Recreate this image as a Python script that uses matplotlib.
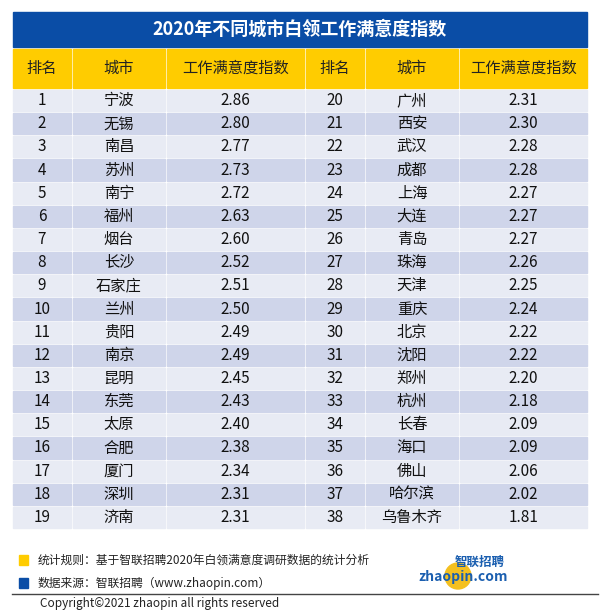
import matplotlib
matplotlib.use("Agg")
import matplotlib.pyplot as plt
from matplotlib.patches import Rectangle, Circle

plt.rcParams['font.family'] = ['Noto Sans CJK SC', 'DejaVu Sans']

title = "2020年不同城市白领工作满意度指数"
headers = ["排名", "城市", "工作满意度指数", "排名", "城市", "工作满意度指数"]
ranks = list(range(1, 39))
cities = ["宁波", "无锡", "南昌", "苏州", "南宁", "福州", "烟台", "长沙", "石家庄", "兰州",
          "贵阳", "南京", "昆明", "东莞", "太原", "合肥", "厦门", "深圳", "济南",
          "广州", "西安", "武汉", "成都", "上海", "大连", "青岛", "珠海", "天津", "重庆",
          "北京", "沈阳", "郑州", "杭州", "长春", "海口", "佛山", "哈尔滨", "乌鲁木齐"]
values = [2.86, 2.80, 2.77, 2.73, 2.72, 2.63, 2.60, 2.52, 2.51, 2.50,
          2.49, 2.49, 2.45, 2.43, 2.40, 2.38, 2.34, 2.31, 2.31,
          2.31, 2.30, 2.28, 2.28, 2.27, 2.27, 2.27, 2.26, 2.25, 2.24,
          2.22, 2.22, 2.20, 2.18, 2.09, 2.09, 2.06, 2.02, 1.81]

fig = plt.figure(figsize=(6, 6.13), dpi=100)
ax = fig.add_axes([0, 0, 1, 1])
ax.set_xlim(0, 600); ax.set_ylim(613, 0); ax.axis('off')

BLUE = "#0A4DA6"; YEL = "#FFCC00"; ODD = "#E8EBF4"; EVEN = "#CFD5EA"
ax.add_patch(Rectangle((13, 12), 574, 35, color=BLUE))
ax.text(300, 29.5, title, color="white", fontsize=13, fontweight="bold", ha="center", va="center")

cols = [(13, 71), (73, 165), (167, 304), (306, 364), (366, 458), (460, 587)]
hy0, hy1 = 49, 88
for (a, b), h in zip(cols, headers):
    ax.add_patch(Rectangle((a, hy0), b - a, hy1 - hy0, color=YEL))
    ax.text((a + b) / 2, (hy0 + hy1) / 2, h, fontsize=11, ha="center", va="center", color="#222")

n = 19
y0, y1 = 89, 529
rh = (y1 - y0) / n
for i in range(38):
    r = i % n
    half = i // n
    top = y0 + r * rh
    fc = ODD if r % 2 == 0 else EVEN
    vals = [str(ranks[i]), cities[i], f"{values[i]:.2f}"]
    for k in range(3):
        a, b = cols[half * 3 + k]
        ax.add_patch(Rectangle((a, top + 1), b - a, rh - 2, color=fc))
        ax.text((a + b) / 2, top + rh / 2, vals[k], fontsize=11, ha="center", va="center", color="#111")

ax.add_patch(Rectangle((19, 555), 9, 10, color=YEL))
ax.text(38, 560, "统计规则：基于智联招聘2020年白领满意度调研数据的统计分析", fontsize=8.5, va="center", color="#222")
ax.add_patch(Rectangle((19, 578), 9, 10, color=BLUE))
ax.text(38, 583, "数据来源：智联招聘（www.zhaopin.com）", fontsize=8.5, va="center", color="#222")
ax.plot([12, 598], [594, 594], color="#444", lw=1)
ax.text(40, 604, "Copyright©2021 zhaopin all rights reserved", fontsize=8.5, va="center", color="#222")

ax.add_patch(Circle((458, 576), 13, color="#F4C020"))
ax.text(505, 562, "智联招聘", fontsize=9, fontweight="bold", fontstyle="italic", ha="right", va="center", color="#1B5FB0")
ax.text(508, 577, "zhaopin.com", fontsize=10, fontweight="bold", fontstyle="italic", ha="right", va="center", color="#1B5FB0")

fig.savefig("out.png", dpi=100, facecolor="white")
